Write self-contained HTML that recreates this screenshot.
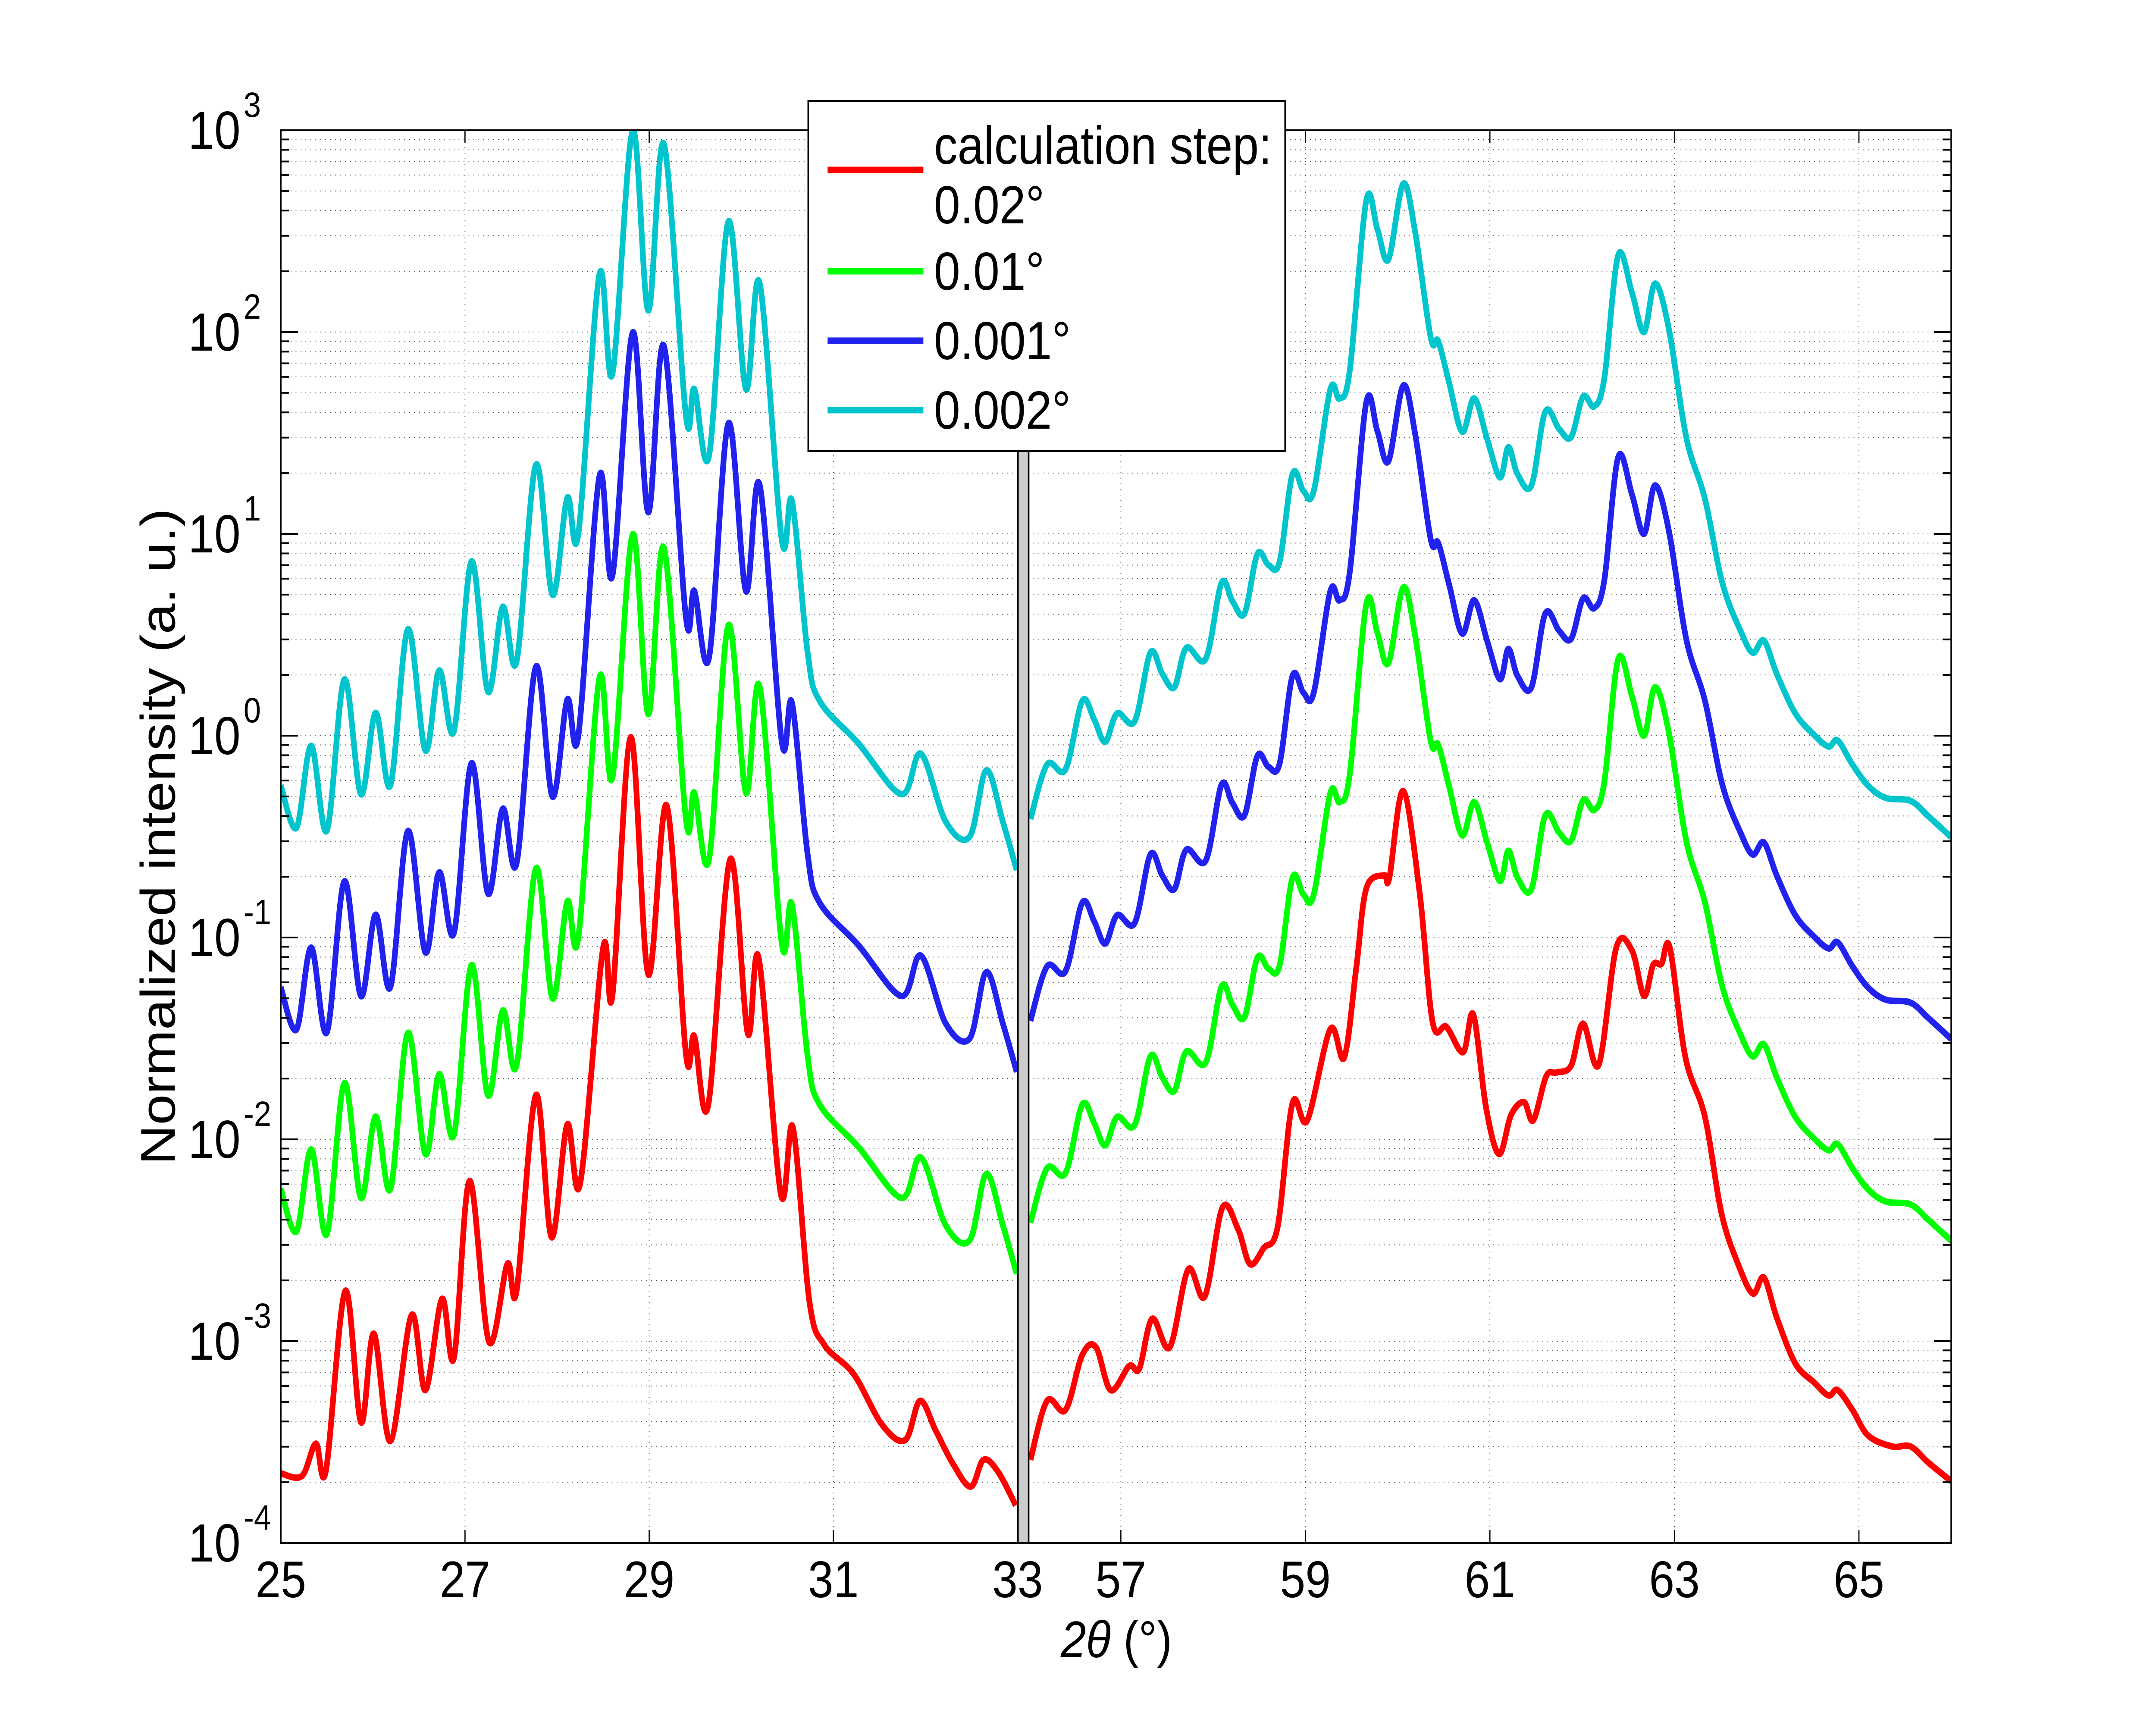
<!DOCTYPE html>
<html><head><meta charset="utf-8"><style>
html,body{margin:0;padding:0;background:#fff;width:100%;height:100%;overflow:hidden;}
svg{display:block;width:100vw;height:100vh;font-family:"Liberation Sans",Arial,sans-serif;}
</style></head><body>
<svg id="chart" viewBox="0 0 5674 4021" preserveAspectRatio="none" xmlns="http://www.w3.org/2000/svg">
<rect x="0" y="0" width="5674" height="4021" fill="#fff"/>
<g id="grid"></g>
<g id="curves"></g>
<g id="axes"></g>
<g id="legend">
  <rect x="2127" y="234" width="1255" height="812" fill="#fff" stroke="#000" stroke-width="4"/>
  <line x1="2178" y1="394" x2="2430" y2="394" stroke="#ff0000" stroke-width="15"/>
  <text x="2458" y="380" font-size="124">calculation step:</text>
  <text x="2458" y="518" font-size="124">0.02°</text>
  <line x1="2178" y1="629" x2="2430" y2="629" stroke="#00ff00" stroke-width="15"/>
  <text x="2458" y="672" font-size="124">0.01°</text>
  <line x1="2178" y1="790" x2="2430" y2="790" stroke="#2222ee" stroke-width="15"/>
  <text x="2458" y="833" font-size="124">0.001°</text>
  <line x1="2178" y1="951" x2="2430" y2="951" stroke="#00c5cd" stroke-width="15"/>
  <text x="2458" y="994" font-size="124">0.002°</text>
</g>
<text x="460" y="1940" font-size="128" text-anchor="middle" transform="rotate(-90 460 1940)">Normalized intensity (a. u.)</text>
<text x="2938" y="3843" font-size="120" text-anchor="middle"><tspan font-style="italic">2θ</tspan> (°)</text>
</svg>
<script>
// ---- data (log10 of intensity) ----
const leftTheta = [25,25.17,25.33,25.5,25.69,25.87,26.03,26.19,26.38,26.57,26.72,26.88,27.07,27.25,27.41,27.56,27.77,27.95,28.11,28.23,28.46,28.6,28.82,28.99,29.16,29.4,29.49,29.65,29.86,30.05,30.2,30.44,30.55,30.72,30.85,31.27,31.74,31.95,32.22,32.48,32.66,32.84,32.99];
const leftBaseLog = [-1.246,-1.456,-1.05,-1.47,-0.722,-1.29,-0.887,-1.246,-0.473,-1.073,-0.677,-0.977,-0.137,-0.782,-0.362,-0.632,0.342,-0.302,0.178,-0.002,1.287,0.792,1.997,1.107,1.931,0.582,0.717,0.387,1.547,0.717,1.242,-0.032,0.163,-0.587,-0.827,-1.037,-1.29,-1.09,-1.426,-1.5,-1.172,-1.426,-1.666];
const leftRedTheta = [25,25.23,25.38,25.49,25.7,25.87,26.01,26.19,26.42,26.57,26.75,26.88,27.05,27.26,27.46,27.56,27.77,27.94,28.11,28.25,28.5,28.6,28.8,28.99,29.19,29.4,29.49,29.64,29.88,30.07,30.19,30.43,30.56,30.74,30.9,31.22,31.53,31.78,31.94,32.11,32.29,32.49,32.63,32.79,32.98];
const leftRedLog = [-3.655,-3.668,-3.508,-3.641,-2.751,-3.402,-2.963,-3.495,-2.871,-3.243,-2.791,-3.083,-2.206,-3.003,-2.618,-2.751,-1.781,-2.485,-1.927,-2.22,-1.05,-1.289,-0.008,-1.183,-0.346,-1.581,-1.489,-1.834,-0.612,-1.475,-1.103,-2.273,-1.94,-2.804,-3.017,-3.163,-3.415,-3.49,-3.296,-3.442,-3.601,-3.721,-3.588,-3.649,-3.814];
const rightTheta = [56.02,56.2,56.4,56.58,56.71,56.83,56.96,57.15,57.32,57.45,57.58,57.71,57.92,58.09,58.21,58.34,58.48,58.6,58.72,58.86,58.98,59.09,59.27,59.37,59.48,59.66,59.78,59.9,60.06,60.19,60.36,60.44,60.56,60.7,60.83,60.97,61.11,61.2,61.3,61.45,61.6,61.75,61.88,62.01,62.13,62.24,62.39,62.54,62.67,62.79,62.94,63.13,63.33,63.52,63.72,63.85,63.97,64.11,64.31,64.51,64.67,64.77,64.93,65.1,65.29,65.56,65.75,66.0];
const rightBaseLog = [-1.413,-1.143,-1.167,-0.829,-0.919,-1.03,-0.889,-0.928,-0.589,-0.694,-0.76,-0.565,-0.619,-0.244,-0.334,-0.394,-0.1,-0.154,-0.139,0.296,0.212,0.212,0.716,0.671,0.806,1.651,1.51,1.36,1.734,1.495,0.97,0.955,0.745,0.506,0.671,0.47,0.28,0.43,0.296,0.24,0.605,0.52,0.48,0.68,0.632,0.77,1.38,1.195,1.0,1.24,1.015,0.475,0.175,-0.244,-0.484,-0.589,-0.529,-0.694,-0.889,-0.994,-1.054,-1.024,-1.143,-1.248,-1.308,-1.323,-1.398,-1.503];
const rightRedTheta = [56.02,56.2,56.4,56.58,56.73,56.89,57.09,57.2,57.34,57.53,57.73,57.91,58.1,58.27,58.4,58.55,58.7,58.86,59.02,59.27,59.42,59.55,59.66,59.85,59.91,60.06,60.24,60.38,60.53,60.71,60.82,60.96,61.1,61.23,61.37,61.47,61.61,61.72,61.88,62.01,62.18,62.37,62.54,62.67,62.77,62.86,62.95,63.12,63.33,63.51,63.69,63.85,63.97,64.11,64.31,64.51,64.67,64.77,64.93,65.1,65.36,65.56,65.75,66.0];
const rightRedLog = [-3.588,-3.296,-3.341,-3.07,-3.03,-3.243,-3.123,-3.136,-2.889,-3.03,-2.645,-2.778,-2.339,-2.445,-2.618,-2.538,-2.432,-1.821,-1.906,-1.454,-1.595,-1.157,-0.758,-0.691,-0.705,-0.274,-0.784,-1.422,-1.443,-1.568,-1.382,-1.847,-2.073,-1.879,-1.816,-1.906,-1.688,-1.669,-1.635,-1.427,-1.63,-1.05,-1.064,-1.289,-1.135,-1.13,-1.05,-1.595,-1.887,-2.366,-2.618,-2.764,-2.685,-2.884,-3.11,-3.203,-3.269,-3.243,-3.341,-3.468,-3.522,-3.522,-3.601,-3.694];
const seriesNames = ["green-0.01","blue-0.001","cyan-0.002"];
const seriesOffsets = [-1, 0, 1]; // decades relative to base curve
const seriesColors = ["#00ff00","#2222ee","#00c5cd"];
const leftXTicks = [25,27,29,31,33];
const rightXTicks = [57,59,61,63,65];
const yExponents = [3,2,1,0,-1,-2,-3,-4];

// ---- axes geometry ----
const NS="http://www.w3.org/2000/svg";
const TOP=302, BOT=3578, YMAX=3, YMIN=-4;
const L={x0:739,x1:2678,t0:25,t1:33}, R={x0:2707,x1:5135,t0:56,t1:66};
function yOf(lg){return TOP+(YMAX-lg)*(BOT-TOP)/(YMAX-YMIN);}
function xOf(p,t){return p.x0+(t-p.t0)*(p.x1-p.x0)/(p.t1-p.t0);}
function mk(tag,attrs,parent){const e=document.createElementNS(NS,tag);for(const k in attrs)e.setAttribute(k,attrs[k]);parent.appendChild(e);return e;}
const grid=document.getElementById('grid'), axes=document.getElementById('axes'), curves=document.getElementById('curves');

// grid
[L,R].forEach((p,pi)=>{
  const ticks = pi===0?leftXTicks:rightXTicks;
  ticks.forEach(t=>{const x=xOf(p,t);
    const g=mk('line',{x1:x,y1:TOP,x2:x,y2:BOT,stroke:'#444','stroke-width':2,'stroke-dasharray':'2 11'},grid);
    
    
  });
  for(let d=YMIN; d<YMAX; d++){for(let m=1;m<=9;m++){const y=yOf(d+Math.log10(m));
    const g=mk('line',{x1:p.x0,y1:y,x2:p.x1,y2:y,stroke:'#444','stroke-width':2,'stroke-dasharray':'2 11'},grid);
    
    
  }}
});

// curves
function pathD(p,ts,ls){const pts=ts.map((t,i)=>[xOf(p,t),yOf(ls[i])]);
  let d='M'+pts[0][0].toFixed(1)+','+pts[0][1].toFixed(1);
  for(let i=0;i<pts.length-1;i++){const p0=pts[Math.max(0,i-1)],p1=pts[i],p2=pts[i+1],p3=pts[Math.min(pts.length-1,i+2)];
    const c1=[p1[0]+(p2[0]-p0[0])/6,p1[1]+(p2[1]-p0[1])/6], c2=[p2[0]-(p3[0]-p1[0])/6,p2[1]-(p3[1]-p1[1])/6];
    d+=' C'+c1.map(v=>v.toFixed(1)).join(',')+' '+c2.map(v=>v.toFixed(1)).join(',')+' '+p2.map(v=>v.toFixed(1)).join(',');}
  return d;}
const defs=mk('defs',{},curves);
[L,R].forEach((p,i)=>{const c=mk('clipPath',{id:'clip'+i},defs);mk('rect',{x:p.x0,y:TOP,width:p.x1-p.x0,height:BOT-TOP},c);});
function addCurve(p,ci,ts,ls,color,name){const e=mk('path',{d:pathD(p,ts,ls),fill:'none',stroke:color,'stroke-width':15,'stroke-linejoin':'round','clip-path':'url(#clip'+ci+')'},curves);
  
  }
addCurve(L,0,leftRedTheta,leftRedLog,'#ff0000','curve-red-0.02-left');
addCurve(R,1,rightRedTheta,rightRedLog,'#ff0000','curve-red-0.02-right');
seriesOffsets.forEach((off,si)=>{
  addCurve(L,0,leftTheta,leftBaseLog.map(v=>v+off),seriesColors[si],'curve-'+seriesNames[si]+'-left');
  addCurve(R,1,rightTheta,rightBaseLog.map(v=>v+off),seriesColors[si],'curve-'+seriesNames[si]+'-right');
});

// axes boxes
[L,R].forEach((p,pi)=>{
  const b=mk('rect',{x:p.x0,y:TOP,width:p.x1-p.x0,height:BOT-TOP,fill:'none',stroke:'#000','stroke-width':4},axes);
  
  
  const ticks = pi===0?leftXTicks:rightXTicks;
  ticks.forEach(t=>{const x=xOf(p,t);
    mk('line',{x1:x,y1:BOT,x2:x,y2:BOT-30,stroke:'#000','stroke-width':3},axes);
    mk('line',{x1:x,y1:TOP,x2:x,y2:TOP+30,stroke:'#000','stroke-width':3},axes);
    const tx=mk('text',{x:x,y:3704,'font-size':120,'text-anchor':'middle'},axes);
    tx.textContent=String(t);
    
    
  });
  const ax = pi===0?p.x0:p.x1, dir = pi===0?1:-1;
  for(let d=YMIN; d<YMAX; d++){for(let m=1;m<=9;m++){const y=yOf(d+Math.log10(m)), len=m===1?45:22;
    mk('line',{x1:ax,y1:y,x2:ax+dir*len,y2:y,stroke:'#000','stroke-width':4},axes);}}
});
// separator
const sep=mk('rect',{x:2679,y:TOP,width:28,height:BOT-TOP,fill:'#cccccc',stroke:'#000','stroke-width':4},axes);


// y labels
yExponents.forEach(e=>{const y=yOf(e);
  const t=mk('text',{x:633,y:y+43,'font-size':124,'text-anchor':'end'},axes);
  t.textContent='10';
  
  
  const s=mk('text',{x:641,y:y-31,'font-size':82},axes);
  s.textContent=String(e);
  
  
});
</script>
</body></html>
